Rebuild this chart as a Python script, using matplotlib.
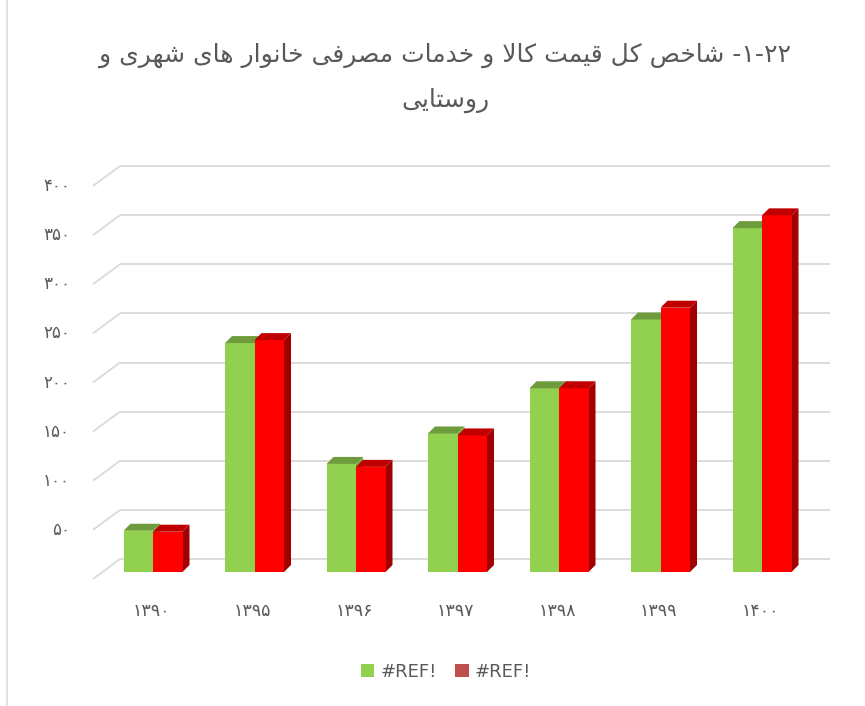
import re
import matplotlib
matplotlib.use('Agg')
import matplotlib.pyplot as plt
from matplotlib.patches import Polygon, Patch
from matplotlib.lines import Line2D
from matplotlib import font_manager
from matplotlib.ft2font import FT2Font
import matplotlib.transforms as mtransforms

# ---------------- data ----------------
years = ['۱۳۹۰', '۱۳۹۵', '۱۳۹۶', '۱۳۹۷', '۱۳۹۸', '۱۳۹۹', '۱۴۰۰']
series_a = [42, 233, 110, 141, 187, 257, 350]   # green
series_b = [41, 236, 107, 139, 187, 269, 363]   # red
y_ticks = [50, 100, 150, 200, 250, 300, 350, 400]
y_tick_labels = ['۵۰', '۱۰۰', '۱۵۰', '۲۰۰', '۲۵۰', '۳۰۰', '۳۵۰', '۴۰۰']
series_names = ['#REF!', '#REF!']
title_line1 = '۱-۲۲- شاخص کل قیمت کالا و خدمات مصرفی خانوار های شهری و'
title_line2 = 'روستایی'

# ---------------- Persian shaping (matplotlib has no bidi/shaping) ----------------
_font_path = font_manager.findfont(font_manager.FontProperties(family='DejaVu Sans'))
_ft = FT2Font(_font_path)


def _has(ch):
    try:
        return _ft.get_char_index(ord(ch)) != 0
    except Exception:
        return False


# iso, fin, ini, med
FORMS = {
    'ا': ('\uFE8D', '\uFE8E', None, None),
    'د': ('\uFEA9', '\uFEAA', None, None),
    'ر': ('\uFEAD', '\uFEAE', None, None),
    'و': ('\uFEED', '\uFEEE', None, None),
    'ت': ('\uFE95', '\uFE96', '\uFE97', '\uFE98'),
    'خ': ('\uFEA5', '\uFEA6', '\uFEA7', '\uFEA8'),
    'س': ('\uFEB1', '\uFEB2', '\uFEB3', '\uFEB4'),
    'ش': ('\uFEB5', '\uFEB6', '\uFEB7', '\uFEB8'),
    'ص': ('\uFEB9', '\uFEBA', '\uFEBB', '\uFEBC'),
    'ف': ('\uFED1', '\uFED2', '\uFED3', '\uFED4'),
    'ق': ('\uFED5', '\uFED6', '\uFED7', '\uFED8'),
    'ل': ('\uFEDD', '\uFEDE', '\uFEDF', '\uFEE0'),
    'م': ('\uFEE1', '\uFEE2', '\uFEE3', '\uFEE4'),
    'ن': ('\uFEE5', '\uFEE6', '\uFEE7', '\uFEE8'),
    'ه': ('\uFEE9', '\uFEEA', '\uFEEB', '\uFEEC'),
}
_keheh = ('\uFB8E', '\uFB8F', '\uFB90', '\uFB91')
_keheh_fb = ('\uFED9', '\uFEDA', '\uFEDB', '\uFEDC')
FORMS['ک'] = _keheh if all(_has(c) for c in _keheh) else _keheh_fb
_fyeh = ('\uFBFC', '\uFBFD', '\uFBFE', '\uFBFF')
_fyeh_fb = ('\uFEEF', '\uFEF0', '\uFEF3', '\uFEF4')
FORMS['ی'] = _fyeh if all(_has(c) for c in _fyeh) else _fyeh_fb


def _dual(ch):
    return ch in FORMS and FORMS[ch][2] is not None


def shape(text):
    out = []
    i = 0
    n = len(text)
    while i < n:
        ch = text[i]
        if ch not in FORMS:
            out.append(ch)
            i += 1
            continue
        prev = text[i - 1] if i > 0 else ''
        joins_prev = _dual(prev)
        if ch == 'ل' and i + 1 < n and text[i + 1] == 'ا':
            out.append('\uFEFC' if joins_prev else '\uFEFB')
            i += 2
            continue
        nxt = text[i + 1] if i + 1 < n else ''
        joins_next = _dual(ch) and nxt in FORMS
        iso, fin, ini, med = FORMS[ch]
        if joins_prev and joins_next:
            out.append(med)
        elif joins_prev:
            out.append(fin)
        elif joins_next:
            out.append(ini)
        else:
            out.append(iso)
        i += 1
    return ''.join(out)


def visual(text):
    s = shape(text)[::-1]
    return re.sub(r'[۰-۹]+(?:-[۰-۹]+)*', lambda m: m.group(0)[::-1], s)


# ---------------- layout (pixels) ----------------
W, H = 865, 706
X0, STEP = 153.0, 101.5      # first group centre, group spacing
Y0, PPU = 572.0, 0.9825      # bar base row, pixels per unit

fig = plt.figure(figsize=(W / 100, H / 100), dpi=100)
AL, AR, AT, AB = 80, 840, 140, 600
ax = fig.add_axes([AL / W, 1 - AB / H, (AR - AL) / W, (AB - AT) / H])
ax.set_xlim((AL - X0) / STEP, (AR - X0) / STEP)
ax.set_ylim((Y0 - AB) / PPU, (Y0 - AT) / PPU)
ax.axis('off')


def xd(px):
    return (px - X0) / STEP


def ddx(px):
    return px / STEP


def ddy(px):
    return px / PPU


grid_c = '#DCDCDC'
back_off = ddy(13)
front_drop = ddy(20)
for v in [0] + y_ticks:
    yb = v + back_off
    ax.plot([xd(120), xd(830)], [yb, yb], color=grid_c, lw=1.4, zorder=0,
            solid_capstyle='butt')
    ax.plot([xd(93), xd(120)], [yb - front_drop, yb], color=grid_c, lw=1.4, zorder=0,
            solid_capstyle='butt')

# bars with pseudo 3D faces
bw = ddx(29.5)
dpx, dpy = ddx(7), ddy(7)
styles = [
    ('#92D050', '#6E9C3C', '#74A83E'),
    ('#FF0000', '#C00000', '#A00000'),
]
for i in range(len(years)):
    for k, vals in enumerate([series_a, series_b]):
        v = vals[i]
        left = i - bw if k == 0 else i
        right = left + bw
        front, top, side = styles[k]
        z = 2 + k * 3
        ax.add_patch(Polygon([(right, 0), (right + dpx, dpy), (right + dpx, v + dpy), (right, v)],
                             closed=True, fc=side, ec='none', zorder=z))
        ax.bar([left], [v], width=bw, align='edge', color=front, zorder=z + 1, lw=0)
        ax.add_patch(Polygon([(left, v), (right, v), (right + dpx, v + dpy), (left + dpx, v + dpy)],
                             closed=True, fc=top, ec='none', zorder=z + 2))

txt_c = '#595959'
# y labels
tr_y = mtransforms.blended_transform_factory(fig.transFigure, ax.transData)
for v, lab in zip(y_ticks, y_tick_labels):
    ax.text(70 / W, v + back_off - front_drop, lab, transform=tr_y, ha='right', va='center',
            fontsize=12, color=txt_c, family=['DejaVu Sans'])

# x labels
tr_x = mtransforms.blended_transform_factory(ax.transData, fig.transFigure)
for i, lab in enumerate(years):
    ax.text(i - ddx(2), 1 - 611 / H, lab, transform=tr_x, ha='center', va='center',
            fontsize=12.5, color=txt_c, family=['DejaVu Sans'])

# title
fig.text(445 / W, 1 - 55 / H, visual(title_line1), ha='center', va='center',
         fontsize=18, color=txt_c, family=['DejaVu Sans'])
fig.text(445 / W, 1 - 100 / H, visual(title_line2), ha='center', va='center',
         fontsize=18, color=txt_c, family=['DejaVu Sans'])

# legend
handles = [Patch(fc='#92D050', ec='none'), Patch(fc='#C0504D', ec='none')]
leg = fig.legend(handles, series_names, loc='center', bbox_to_anchor=(446 / W, 1 - 672 / H),
                 ncol=2, frameon=False, handlelength=0.75, handleheight=0.75,
                 handletextpad=0.35, columnspacing=1.0,
                 prop={'family': ['Liberation Sans Narrow', 'DejaVu Sans'], 'size': 13})
for t in leg.get_texts():
    t.set_color(txt_c)

# left border line
fig.add_artist(Line2D([7.5 / W, 7.5 / W], [0, 1], color=grid_c, lw=1.2))

fig.savefig('out.png', dpi=100)
